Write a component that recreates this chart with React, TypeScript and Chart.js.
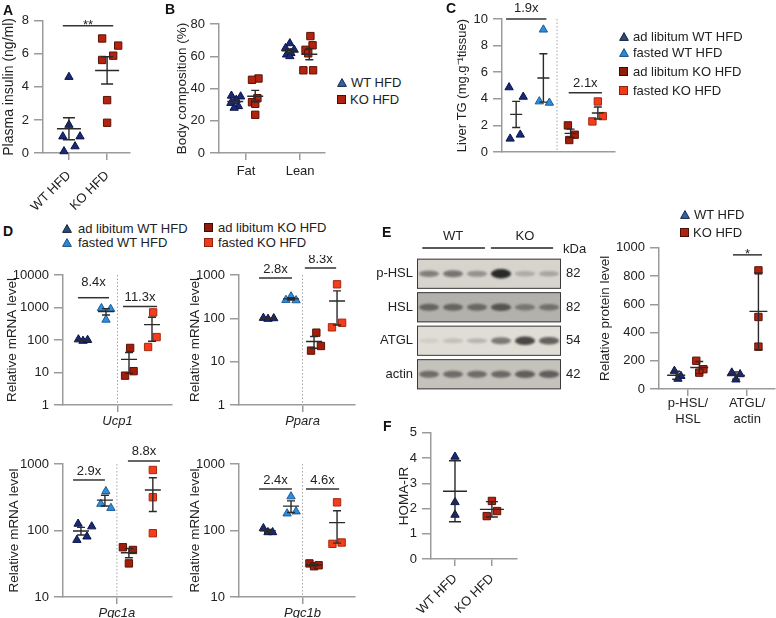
import React, { useEffect, useRef } from 'react';
import { Chart, registerables } from 'chart.js';

Chart.register(...registerables);

const FONT = 'Arial, "Liberation Sans", Helvetica, sans-serif';
const INK = '#222222';
const AXIS = '#9b9b9b';

// ---------------- DATA ----------------
// A – plasma insulin (ng/ml)
const insulinLabels = ['WT HFD', 'KO HFD'];
const insulinTicks = [0, 2, 4, 6, 8];
const insulinWT = [4.6, 1.7, 1.0, 1.0, 0.4, 0.1];
const insulinWTJitter = [0, 0, -0.16, 0.29, 0.16, -0.13];
const insulinKO = [6.93, 6.5, 5.89, 5.63, 3.2, 1.83];
const insulinKOJitter = [-0.13, 0.29, 0.16, -0.13, 0, 0];
const insulinSig = '**';
const insulinSigY = 7.7;

// B – body composition (%)
const bodyCats = ['Fat', 'Lean'];
const bodyTicks = [0, 20, 40, 60, 80];
const fatWT = [35.5, 35, 33, 31, 29, 28];
const fatWTJitter = [-0.07, 0.1, 0.02, -0.08, 0.06, -0.02];
const fatKO = [46.2, 45.4, 34, 31.5, 30.5, 23.7];
const fatKOJitter = [0.06, -0.06, 0.04, -0.06, 0, 0];
const leanWT = [68, 65, 64, 62, 61, 60];
const leanWTJitter = [0, -0.08, 0.08, 0.02, -0.06, 0];
const leanKO = [72.5, 66.8, 64, 61.8, 51.3, 51.3];
const leanKOJitter = [0.02, 0.06, -0.07, -0.02, -0.11, 0.07];

// C – liver TG
const tgTicks = [0, 2, 4, 6, 8, 10];
const tgAdWT = [4.86, 4.15, 1.3, 1.0];
const tgAdWTJitter = [-0.26, 0.26, 0.15, -0.22];
const tgFastWT = [9.2, 3.8, 3.7];
const tgFastWTJitter = [0, -0.15, 0.22];
const tgAdKO = [2.0, 1.3, 0.9];
const tgAdKOJitter = [-0.1, 0.15, -0.05];
const tgFastKO = [3.8, 2.7, 2.3];
const tgFastKOJitter = [0, 0.18, -0.2];
const tgFoldText = ['1.9x', '2.1x'];
const tgFoldY = [10, 4.45];

// D – relative mRNA levels
const mrnaTicks4 = [1, 10, 100, 1000, 10000];
const mrnaTicks3 = [1, 10, 100, 1000];
const mrnaTicks2 = [10, 100, 1000];

const ucp1AdWT = [104, 94, 100];
const ucp1AdWTJitter = [-0.2, 0, 0.2];
const ucp1FastWT = [950, 900, 420];
const ucp1FastWTJitter = [-0.2, 0.2, 0];
const ucp1AdKO = [57, 11, 8];
const ucp1AdKOJitter = [0.05, 0.2, -0.17];
const ucp1FastKO = [707, 123, 61];
const ucp1FastKOJitter = [0.05, 0.2, -0.17];
const ucp1FoldText = ['8.4x', '11.3x'];
const ucp1FoldY = [2000, 1070];

const pparaAdWT = [102, 97, 100];
const pparaAdWTJitter = [-0.2, 0, 0.25];
const pparaFastWT = [320, 265, 260];
const pparaFastWTJitter = [0, -0.22, 0.22];
const pparaAdKO = [46.7, 23, 18];
const pparaAdKOJitter = [0.1, 0.3, -0.13];
const pparaFastKO = [610, 79, 62];
const pparaFastKOJitter = [0, 0.22, -0.22];
const pparaFoldText = ['2.8x', '8.3x'];
const pparaFoldY = [850, 1450];

const pgc1aAdWT = [126, 115, 81, 72];
const pgc1aAdWTJitter = [-0.12, 0.45, 0.25, -0.17];
const pgc1aFastWT = [389, 251, 218];
const pgc1aFastWTJitter = [0.04, -0.17, 0.25];
const pgc1aAdKO = [56, 51, 32];
const pgc1aAdKOJitter = [-0.25, 0.17, 0];
const pgc1aFastKO = [813, 316, 91];
const pgc1aFastKOJitter = [0, 0, 0];
const pgc1aFoldText = ['2.9x', '8.8x'];
const pgc1aFoldY = [575, 1110];

const pgc1bAdWT = [108, 94, 94];
const pgc1bAdWTJitter = [-0.2, 0, 0.2];
const pgc1bFastWT = [325, 193, 180];
const pgc1bFastWTJitter = [0, 0.22, -0.17];
const pgc1bAdKO = [32, 29, 30];
const pgc1bAdKOJitter = [-0.2, 0, 0.2];
const pgc1bFastKO = [265, 66, 63];
const pgc1bFastKOJitter = [0, 0.2, -0.2];
const pgc1bFoldText = ['2.4x', '4.6x'];
const pgc1bFoldY = [420, 420];

// E – western blot + quantification
const blotRows = ['p-HSL', 'HSL', 'ATGL', 'actin'];
const blotKDa = ['82', '82', '54', '42'];
const blotGroups = ['WT', 'KO'];
const pHslBands = [0.45, 0.5, 0.35, 0.9, 0.22, 0.25];
const hslBands = [0.5, 0.5, 0.48, 0.6, 0.38, 0.42];
const atglBands = [0.08, 0.14, 0.2, 0.5, 0.75, 0.62];
const actinBands = [0.5, 0.5, 0.5, 0.52, 0.58, 0.58];

const proteinCats = [['p-HSL/', 'HSL'], ['ATGL/', 'actin']];
const proteinTicks = [0, 200, 400, 600, 800, 1000];
const pHslWT = [128, 92, 72];
const pHslWTJitter = [-0.03, 0.08, 0.03];
const pHslKO = [200, 140, 116];
const pHslKOJitter = [-0.05, 0.07, 0];
const atglWT = [116, 104, 67];
const atglWTJitter = [-0.07, 0.07, 0];
const atglKO = [840, 510, 300];
const atglKOJitter = [0, 0, 0];
const proteinSig = '*';
const proteinSigY = 950;

// F – HOMA-IR
const homaLabels = ['WT HFD', 'KO HFD'];
const homaTicks = [0, 1, 2, 3, 4, 5];
const homaWT = [4.05, 2.25, 1.75];
const homaWTJitter = [0, 0, 0];
const homaKO = [2.3, 1.9, 1.7];
const homaKOJitter = [0, 0.14, -0.14];

// ---------------- STYLES ----------------
const NAVY = { fill: '#1a2878', stroke: '#0b1447' };
const SKY = { fill: '#2d8ee0', stroke: '#1b5a96' };
const KO = { fill: '#b3230e', stroke: '#5a1207' };
const KOAD = { fill: '#a31d0b', stroke: '#5a1207' };
const KOF = { fill: '#f53d1d', stroke: '#a3290f' };
const ROW_BG = ['#d6d4cd', '#b3b1ab', '#dfddd5', '#c4c2bb'];

type Marker = 'triangle' | 'rect';
interface Group { x: number; values: number[]; jitter: number[]; marker: Marker; fill: string; stroke: string; }
interface Annot { from: number; to: number; y: number; text: string; gap?: number; }
interface Rect { l: number; t: number; w: number; h: number; }
interface Area { l: number; t: number; b: number; r: number; }
interface PanelSpec {
  box: Rect; area: Area;
  xMin: number; xMax: number; xTicks: number[]; xLabels: (string | string[])[];
  xRotate?: boolean; xItalic?: boolean; xPad?: number; showXTicks?: boolean;
  yLog?: boolean; yMin: number; yMax: number; yTicks: number[];
  yTitle: string; titleX: number; titleSize?: number;
  groups: Group[]; err: 'sem' | 'sd'; meanHalf: number; capHalf: number;
  divider?: number; folds?: Annot[]; sig?: Annot;
}

const grp = (x: number, values: number[], jitter: number[], marker: Marker, c: { fill: string; stroke: string }): Group =>
  ({ x, values, jitter, marker, fill: c.fill, stroke: c.stroke });

function statsPlugin(p: PanelSpec) {
  return {
    id: 'stats',
    beforeDatasetsDraw(chart: any) {
      if (p.divider === undefined) return;
      const { ctx, chartArea, scales } = chart;
      const px = scales.x.getPixelForValue(p.divider);
      ctx.save();
      ctx.strokeStyle = '#a5a5a5';
      ctx.lineWidth = 1;
      ctx.setLineDash([1.5, 2]);
      ctx.beginPath();
      ctx.moveTo(px, chartArea.top);
      ctx.lineTo(px, chartArea.bottom);
      ctx.stroke();
      ctx.restore();
    },
    afterDatasetsDraw(chart: any) {
      const { ctx, chartArea, scales: { x, y } } = chart;
      ctx.save();
      ctx.strokeStyle = '#2a2a2a';
      ctx.lineWidth = 1.4;
      for (const g of p.groups) {
        const n = g.values.length;
        const mean = g.values.reduce((a, b) => a + b, 0) / n;
        const sd = Math.sqrt(g.values.reduce((a, b) => a + (b - mean) ** 2, 0) / (n - 1));
        const err = p.err === 'sd' ? sd : sd / Math.sqrt(n);
        const cx = x.getPixelForValue(g.x);
        const yM = y.getPixelForValue(mean);
        const yH = y.getPixelForValue(mean + err);
        const lo = mean - err;
        const yL = lo > 0 || !p.yLog ? y.getPixelForValue(lo) : chartArea.bottom;
        ctx.beginPath();
        ctx.moveTo(cx, yH); ctx.lineTo(cx, yL);
        ctx.moveTo(cx - p.capHalf, yH); ctx.lineTo(cx + p.capHalf, yH);
        ctx.moveTo(cx - p.capHalf, yL); ctx.lineTo(cx + p.capHalf, yL);
        ctx.moveTo(cx - p.meanHalf, yM); ctx.lineTo(cx + p.meanHalf, yM);
        ctx.stroke();
      }
      ctx.font = `13px ${FONT}`;
      ctx.fillStyle = INK;
      ctx.textAlign = 'center';
      ctx.textBaseline = 'alphabetic';
      ctx.lineWidth = 1.5;
      ctx.strokeStyle = '#333';
      const annots = [...(p.folds ?? [])];
      for (const f of annots) {
        const x1 = x.getPixelForValue(f.from);
        const x2 = x.getPixelForValue(f.to);
        const yy = y.getPixelForValue(f.y);
        ctx.beginPath(); ctx.moveTo(x1, yy); ctx.lineTo(x2, yy); ctx.stroke();
        ctx.fillText(f.text, (x1 + x2) / 2, yy - (f.gap ?? 5));
      }
      if (p.sig) {
        const s = p.sig;
        const x1 = x.getPixelForValue(s.from);
        const x2 = x.getPixelForValue(s.to);
        const yy = y.getPixelForValue(s.y);
        ctx.beginPath(); ctx.moveTo(x1, yy); ctx.lineTo(x2, yy); ctx.stroke();
        ctx.fillText(s.text, (x1 + x2) / 2, yy + 3);
      }
      ctx.restore();
    },
  };
}

function buildScatter(p: PanelSpec) {
  const yW = p.area.l - p.box.l;
  const xH = p.box.t + p.box.h - p.area.b;
  const font = { family: FONT, size: 13 };
  const tSize = p.titleSize ?? 13.5;
  const showX = p.showXTicks !== false;
  return {
    type: 'scatter',
    data: {
      datasets: p.groups.map(g => ({
        data: g.values.map((v, i) => ({ x: g.x + g.jitter[i], y: v })),
        pointStyle: g.marker,
        pointRadius: g.marker === 'triangle' ? 4.8 : 5.2,
        backgroundColor: g.fill,
        borderColor: g.stroke,
        borderWidth: 1,
        clip: false,
      })),
    },
    options: {
      responsive: false,
      animation: false,
      devicePixelRatio: 1,
      events: [],
      layout: {
        autoPadding: false,
        padding: { left: 0, top: p.area.t - p.box.t, right: p.box.l + p.box.w - p.area.r, bottom: 0 },
      },
      plugins: { legend: { display: false }, tooltip: { enabled: false } },
      scales: {
        x: {
          type: 'linear', position: 'bottom', min: p.xMin, max: p.xMax,
          afterFit: (s: any) => { s.height = xH; },
          afterBuildTicks: (s: any) => { s.ticks = p.xTicks.map(v => ({ value: v })); },
          ticks: {
            display: showX, autoSkip: false,
            maxRotation: p.xRotate ? 45 : 0, minRotation: p.xRotate ? 45 : 0,
            padding: p.xPad ?? 2, color: INK,
            font: { ...font, style: p.xItalic ? 'italic' : 'normal' },
            callback: (v: any) => { const i = p.xTicks.indexOf(Number(v)); return i >= 0 ? p.xLabels[i] : ''; },
          },
          grid: { display: showX, drawOnChartArea: false, drawTicks: true, tickLength: 7, color: AXIS, lineWidth: 1.5 },
          border: { display: true, color: AXIS, width: 1.5 },
        },
        y: {
          type: p.yLog ? 'logarithmic' : 'linear', position: 'left', min: p.yMin, max: p.yMax,
          afterFit: (s: any) => { s.width = yW; },
          afterBuildTicks: (s: any) => { s.ticks = p.yTicks.map(v => ({ value: v })); },
          ticks: { autoSkip: false, padding: 5, color: INK, font, callback: (v: any) => String(v) },
          grid: { display: true, drawOnChartArea: false, drawTicks: true, tickLength: 9, color: AXIS, lineWidth: 1.5 },
          border: { display: true, color: AXIS, width: 1.5 },
          title: {
            display: true, text: p.yTitle, color: INK, font: { family: FONT, size: tSize },
            padding: { top: p.titleX - p.box.l - (tSize * 1.2) / 2, bottom: 0 },
          },
        },
      },
    },
    plugins: [statsPlugin(p)],
  };
}

const blotPlugin = {
  id: 'blot',
  afterDraw(chart: any) {
    const { ctx, chartArea, scales: { x, y } } = chart;
    const bands = [pHslBands, hslBands, atglBands, actinBands];
    ctx.save();
    ctx.font = `13px ${FONT}`;
    ctx.fillStyle = INK;
    const l = x.getPixelForValue(0.5);
    const r = x.getPixelForValue(6.5);
    const laneW = x.getPixelForValue(2) - x.getPixelForValue(1);
    blotRows.forEach((name, i) => {
      const t = y.getPixelForValue(i + 0.05);
      const b = y.getPixelForValue(i + 0.95);
      ctx.fillStyle = ROW_BG[i];
      ctx.fillRect(l, t, r - l, b - t);
      ctx.save();
      ctx.beginPath(); ctx.rect(l, t, r - l, b - t); ctx.clip();
      ctx.filter = 'blur(1.2px)';
      bands[i].forEach((v, j) => {
        const cx = x.getPixelForValue(j + 1);
        const cy = (t + b) / 2;
        ctx.fillStyle = `rgba(22,22,22,${Math.min(0.95, v)})`;
        ctx.beginPath();
        ctx.ellipse(cx, cy, laneW * 0.42, 2 + 3 * v, 0, 0, Math.PI * 2);
        ctx.fill();
      });
      ctx.restore();
      ctx.strokeStyle = '#3a3a3a';
      ctx.lineWidth = 1;
      ctx.strokeRect(l + 0.5, t + 0.5, r - l - 1, b - t - 1);
      ctx.fillStyle = INK;
      ctx.textBaseline = 'middle';
      ctx.textAlign = 'right';
      ctx.fillText(name, l - 4, (t + b) / 2);
      ctx.textAlign = 'left';
      ctx.fillText(blotKDa[i], r + 5, (t + b) / 2);
    });
    // group headers
    const top = chartArea.top;
    ctx.strokeStyle = '#222';
    ctx.lineWidth = 1.5;
    const spans = [[0.72, 3.33], [3.58, 6.17]];
    blotGroups.forEach((gname, k) => {
      const x1 = x.getPixelForValue(spans[k][0]);
      const x2 = x.getPixelForValue(spans[k][1]);
      ctx.beginPath(); ctx.moveTo(x1, top - 9); ctx.lineTo(x2, top - 9); ctx.stroke();
      ctx.textAlign = 'center';
      ctx.textBaseline = 'middle';
      ctx.fillText(gname, x.getPixelForValue(k * 3 + 2), top - 21);
    });
    ctx.textAlign = 'left';
    ctx.fillText('kDa', r + 2, top - 8);
    ctx.restore();
  },
};

function buildBlot(box: Rect, area: Area) {
  return {
    type: 'scatter',
    data: { datasets: [] },
    options: {
      responsive: false, animation: false, devicePixelRatio: 1, events: [],
      layout: {
        autoPadding: false,
        padding: { left: area.l - box.l, top: area.t - box.t, right: box.l + box.w - area.r, bottom: box.t + box.h - area.b },
      },
      plugins: { legend: { display: false }, tooltip: { enabled: false } },
      scales: {
        x: { type: 'linear', min: 0.5, max: 6.5, display: false },
        y: { type: 'linear', min: 0, max: 4, reverse: true, display: false },
      },
    },
    plugins: [blotPlugin],
  };
}

// ---------------- PANELS ----------------
const panelA: PanelSpec = {
  box: { l: 0, t: 8, w: 135, h: 205 }, area: { l: 43, t: 20, b: 153, r: 130 },
  xMin: 0.32, xMax: 2.6, xTicks: [1, 2], xLabels: insulinLabels, xRotate: true, xPad: 8,
  yMin: 0, yMax: 8, yTicks: insulinTicks, yTitle: 'Plasma insulin (ng/ml)', titleX: 9, titleSize: 14,
  groups: [grp(1, insulinWT, insulinWTJitter, 'triangle', NAVY), grp(2, insulinKO, insulinKOJitter, 'rect', KO)],
  err: 'sem', meanHalf: 12, capHalf: 6,
  sig: { from: 0.84, to: 2.16, y: insulinSigY, text: insulinSig },
};

const panelB: PanelSpec = {
  box: { l: 150, t: 8, w: 180, h: 172 }, area: { l: 219, t: 24, b: 153, r: 325 },
  xMin: -0.5, xMax: 1.46, xTicks: [0, 1], xLabels: bodyCats, xPad: 4,
  yMin: 0, yMax: 80, yTicks: bodyTicks, yTitle: 'Body composition (%)', titleX: 182,
  groups: [
    grp(-0.2, fatWT, fatWTJitter, 'triangle', NAVY), grp(0.17, fatKO, fatKOJitter, 'rect', KO),
    grp(0.81, leanWT, leanWTJitter, 'triangle', NAVY), grp(1.17, leanKO, leanKOJitter, 'rect', KO),
  ],
  err: 'sem', meanHalf: 8, capHalf: 4,
};

const panelC: PanelSpec = {
  box: { l: 440, t: 0, w: 185, h: 165 }, area: { l: 502, t: 19, b: 152, r: 615 },
  xMin: 0.48, xMax: 4.63, xTicks: [], xLabels: [], showXTicks: false,
  yMin: 0, yMax: 10, yTicks: tgTicks, yTitle: 'Liver TG (mg.g\u207B\u00B9tissue)', titleX: 462, titleSize: 13,
  groups: [
    grp(1, tgAdWT, tgAdWTJitter, 'triangle', NAVY), grp(2, tgFastWT, tgFastWTJitter, 'triangle', SKY),
    grp(3, tgAdKO, tgAdKOJitter, 'rect', KOAD), grp(4, tgFastKO, tgFastKOJitter, 'rect', KOF),
  ],
  err: 'sem', meanHalf: 6, capHalf: 4, divider: 2.5,
  folds: [
    { from: 0.63, to: 2.11, y: tgFoldY[0], text: tgFoldText[0], gap: 7 },
    { from: 2.93, to: 4.15, y: tgFoldY[1], text: tgFoldText[1], gap: 6 },
  ],
};

function mrnaPanel(box: Rect, area: Area, xMin: number, xMax: number, label: string, ticks: number[], titleX: number,
  data: number[][], jit: number[][], foldText: string[], foldY: number[], spans: number[][], gaps: number[]): PanelSpec {
  return {
    box, area, xMin, xMax, xTicks: [2.5], xLabels: [label], xItalic: true, xPad: 2,
    yLog: true, yMin: ticks[0], yMax: ticks[ticks.length - 1], yTicks: ticks,
    yTitle: 'Relative mRNA level', titleX,
    groups: [
      grp(1, data[0], jit[0], 'triangle', NAVY), grp(2, data[1], jit[1], 'triangle', SKY),
      grp(3, data[2], jit[2], 'rect', KOAD), grp(4, data[3], jit[3], 'rect', KOF),
    ],
    err: 'sem', meanHalf: 8, capHalf: 4, divider: 2.5,
    folds: foldText.map((t, i) => ({ from: spans[i][0], to: spans[i][1], y: foldY[i], text: t, gap: gaps[i] })),
  };
}

const panelUcp1 = mrnaPanel({ l: 0, t: 255, w: 180, h: 180 }, { l: 63, t: 275, b: 405, r: 172 }, 0.13, 4.87, 'Ucp1', mrnaTicks4, 12,
  [ucp1AdWT, ucp1FastWT, ucp1AdKO, ucp1FastKO], [ucp1AdWTJitter, ucp1FastWTJitter, ucp1AdKOJitter, ucp1FastKOJitter],
  ucp1FoldText, ucp1FoldY, [[0.78, 2.13], [2.74, 4.22]], [12, 6]);
const panelPpara = mrnaPanel({ l: 180, t: 255, w: 185, h: 180 }, { l: 239, t: 275, b: 405, r: 355 }, -0.26, 4.78, 'Ppara', mrnaTicks3, 195,
  [pparaAdWT, pparaFastWT, pparaAdKO, pparaFastKO], [pparaAdWTJitter, pparaFastWTJitter, pparaAdKOJitter, pparaFastKOJitter],
  pparaFoldText, pparaFoldY, [[0.61, 2.04], [2.6, 3.96]], [5, 5]);
const panelPgc1a = mrnaPanel({ l: 0, t: 440, w: 180, h: 178 }, { l: 63, t: 464, b: 597, r: 172 }, 0.25, 4.8, 'Pgc1a', mrnaTicks2, 14,
  [pgc1aAdWT, pgc1aFastWT, pgc1aAdKO, pgc1aFastKO], [pgc1aAdWTJitter, pgc1aFastWTJitter, pgc1aAdKOJitter, pgc1aFastKOJitter],
  pgc1aFoldText, pgc1aFoldY, [[0.67, 2.0], [2.96, 4.3]], [5, 6]);
const panelPgc1b = mrnaPanel({ l: 180, t: 440, w: 185, h: 178 }, { l: 239, t: 464, b: 597, r: 355 }, -0.26, 4.78, 'Pgc1b', mrnaTicks2, 195,
  [pgc1bAdWT, pgc1bFastWT, pgc1bAdKO, pgc1bFastKO], [pgc1bAdWTJitter, pgc1bFastWTJitter, pgc1bAdKOJitter, pgc1bFastKOJitter],
  pgc1bFoldText, pgc1bFoldY, [[0.61, 2.04], [2.65, 4.09]], [5, 5]);

const panelE: PanelSpec = {
  box: { l: 590, t: 235, w: 186, h: 190 }, area: { l: 659, t: 247, b: 389, r: 775 },
  xMin: 0.51, xMax: 2.47, xTicks: [1, 2], xLabels: proteinCats, xPad: 0,
  yMin: 0, yMax: 1000, yTicks: proteinTicks, yTitle: 'Relative protein level', titleX: 605,
  groups: [
    grp(0.8, pHslWT, pHslWTJitter, 'triangle', NAVY), grp(1.19, pHslKO, pHslKOJitter, 'rect', KO),
    grp(1.81, atglWT, atglWTJitter, 'triangle', NAVY), grp(2.19, atglKO, atglKOJitter, 'rect', KO),
  ],
  err: 'sd', meanHalf: 9, capHalf: 4,
  sig: { from: 1.76, to: 2.25, y: proteinSigY, text: proteinSig },
};

const panelF: PanelSpec = {
  box: { l: 395, t: 420, w: 130, h: 198 }, area: { l: 431, t: 431, b: 559, r: 517 },
  xMin: 0.35, xMax: 2.68, xTicks: [1, 2], xLabels: homaLabels, xRotate: true, xPad: 5,
  yMin: 0, yMax: 5, yTicks: homaTicks, yTitle: 'HOMA-IR', titleX: 404,
  groups: [grp(1, homaWT, homaWTJitter, 'triangle', NAVY), grp(2, homaKO, homaKOJitter, 'rect', KO)],
  err: 'sd', meanHalf: 12, capHalf: 6,
};

const blotBox: Rect = { l: 360, t: 225, w: 235, h: 175 };
const blotArea: Area = { l: 417, t: 257, b: 391, r: 561 };

// ---------------- COMPONENTS ----------------
function ChartBox({ box, make }: { box: Rect; make: () => any }) {
  const ref = useRef<HTMLCanvasElement>(null);
  useEffect(() => {
    const chart = new Chart(ref.current as HTMLCanvasElement, make());
    return () => chart.destroy();
  }, []);
  return (
    <canvas ref={ref} width={box.w} height={box.h}
      style={{ position: 'absolute', left: box.l, top: box.t, width: box.w, height: box.h, display: 'block' }} />
  );
}

function Tri({ fill, stroke }: { fill: string; stroke: string }) {
  return (
    <svg width={10} height={9} style={{ display: 'block', flex: 'none' }}>
      <polygon points="5,0.6 9.4,8.4 0.6,8.4" fill={fill} stroke={stroke} strokeWidth={1} />
    </svg>
  );
}
function Sq({ fill, stroke }: { fill: string; stroke: string }) {
  return (
    <svg width={9} height={9} style={{ display: 'block', flex: 'none' }}>
      <rect x={0.5} y={0.5} width={8} height={8} fill={fill} stroke={stroke} strokeWidth={1} />
    </svg>
  );
}
function LegendRow({ x, y, marker, fill, stroke, text, gap }:
  { x: number; y: number; marker: Marker; fill: string; stroke: string; text: string; gap: number }) {
  return (
    <div style={{ position: 'absolute', left: x, top: y - 8, height: 16, display: 'flex', alignItems: 'center', gap,
      font: `13px ${FONT}`, color: INK, whiteSpace: 'nowrap' }}>
      {marker === 'triangle' ? <Tri fill={fill} stroke={stroke} /> : <Sq fill={fill} stroke={stroke} />}
      <span>{text}</span>
    </div>
  );
}
function Letter({ x, y, t }: { x: number; y: number; t: string }) {
  return (
    <div style={{ position: 'absolute', left: x, top: y, font: `bold 14px ${FONT}`, lineHeight: '14px', color: '#111' }}>{t}</div>
  );
}

const LEG_WT = { fill: '#2f63a2', stroke: '#16284a' };
const LEG_KO = { fill: '#b0230f', stroke: '#4a0f06' };
const LEG_ADWT = { fill: '#2a4d78', stroke: '#14233a' };
const LEG_FWT = { fill: '#2a88d8', stroke: '#18507e' };
const LEG_ADKO = { fill: '#8e1b0c', stroke: '#3e0c05' };
const LEG_FKO = { fill: '#f23a1b', stroke: '#8a220f' };

export default function App() {
  return (
    <div style={{ position: 'fixed', left: 0, top: 0, width: 776, height: 618, background: '#fff', overflow: 'hidden' }}>
      <ChartBox box={panelA.box} make={() => buildScatter(panelA)} />
      <ChartBox box={panelB.box} make={() => buildScatter(panelB)} />
      <ChartBox box={panelC.box} make={() => buildScatter(panelC)} />
      <ChartBox box={panelUcp1.box} make={() => buildScatter(panelUcp1)} />
      <ChartBox box={panelPpara.box} make={() => buildScatter(panelPpara)} />
      <ChartBox box={panelPgc1a.box} make={() => buildScatter(panelPgc1a)} />
      <ChartBox box={panelPgc1b.box} make={() => buildScatter(panelPgc1b)} />
      <ChartBox box={blotBox} make={() => buildBlot(blotBox, blotArea)} />
      <ChartBox box={panelE.box} make={() => buildScatter(panelE)} />
      <ChartBox box={panelF.box} make={() => buildScatter(panelF)} />

      <Letter x={3} y={3} t="A" />
      <Letter x={165} y={2} t="B" />
      <Letter x={446} y={1} t="C" />
      <Letter x={3} y={224} t="D" />
      <Letter x={382} y={225} t="E" />
      <Letter x={383} y={419} t="F" />

      <LegendRow x={337} y={82} marker="triangle" {...LEG_WT} text="WT HFD" gap={4} />
      <LegendRow x={337} y={99} marker="rect" {...LEG_KO} text="KO HFD" gap={4} />

      <LegendRow x={619} y={36} marker="triangle" {...LEG_ADWT} text="ad libitum WT HFD" gap={4} />
      <LegendRow x={619} y={52} marker="triangle" {...LEG_FWT} text="fasted WT HFD" gap={4} />
      <LegendRow x={619} y={71} marker="rect" {...LEG_ADKO} text="ad libitum KO HFD" gap={5} />
      <LegendRow x={619} y={90} marker="rect" {...LEG_FKO} text="fasted KO HFD" gap={5} />

      <LegendRow x={62} y={228} marker="triangle" {...LEG_ADWT} text="ad libitum WT HFD" gap={6} />
      <LegendRow x={62} y={242} marker="triangle" {...LEG_FWT} text="fasted WT HFD" gap={6} />
      <LegendRow x={204} y={227} marker="rect" {...LEG_ADKO} text="ad libitum KO HFD" gap={5} />
      <LegendRow x={204} y={242} marker="rect" {...LEG_FKO} text="fasted KO HFD" gap={5} />

      <LegendRow x={680} y={214} marker="triangle" {...LEG_WT} text="WT HFD" gap={4} />
      <LegendRow x={680} y={232} marker="rect" {...LEG_KO} text="KO HFD" gap={4} />
    </div>
  );
}
